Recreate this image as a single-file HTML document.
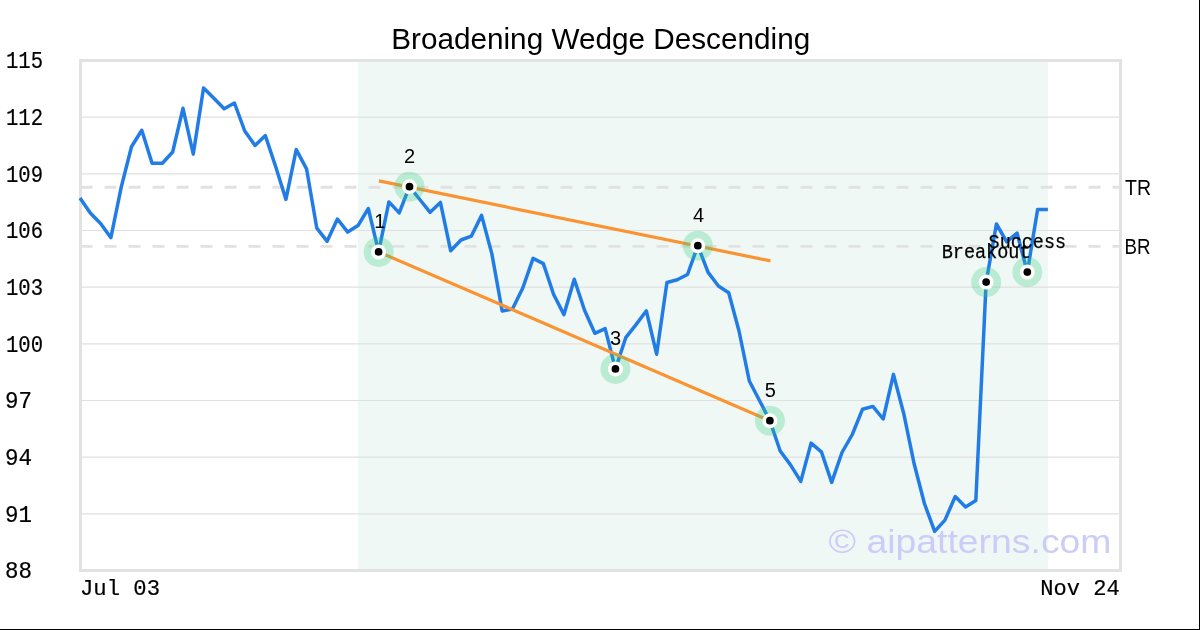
<!DOCTYPE html><html><head><meta charset="utf-8"><style>html,body{margin:0;padding:0;background:#fff;}svg{display:block;will-change:transform;}</style></head><body>
<svg width="1200" height="630" viewBox="0 0 1200 630">
<rect x="0" y="0" width="1200" height="630" fill="#fff"/>
<rect x="358.02" y="60.5" width="689.90" height="510.0" fill="#f0f8f5"/>
<line x1="80.5" y1="513.83" x2="1120.5" y2="513.83" stroke="#e0e0e0" stroke-width="1.1"/>
<line x1="80.5" y1="457.17" x2="1120.5" y2="457.17" stroke="#e0e0e0" stroke-width="1.1"/>
<line x1="80.5" y1="400.50" x2="1120.5" y2="400.50" stroke="#e0e0e0" stroke-width="1.1"/>
<line x1="80.5" y1="343.83" x2="1120.5" y2="343.83" stroke="#e0e0e0" stroke-width="1.1"/>
<line x1="80.5" y1="287.17" x2="1120.5" y2="287.17" stroke="#e0e0e0" stroke-width="1.1"/>
<line x1="80.5" y1="230.50" x2="1120.5" y2="230.50" stroke="#e0e0e0" stroke-width="1.1"/>
<line x1="80.5" y1="173.83" x2="1120.5" y2="173.83" stroke="#e0e0e0" stroke-width="1.1"/>
<line x1="80.5" y1="117.17" x2="1120.5" y2="117.17" stroke="#e0e0e0" stroke-width="1.1"/>
<line x1="80.5" y1="187.25" x2="1120.5" y2="187.25" stroke="#e2e2e2" stroke-width="2.8" stroke-dasharray="12 12"/>
<line x1="80.5" y1="246.3" x2="1120.5" y2="246.3" stroke="#e2e2e2" stroke-width="2.8" stroke-dasharray="12 12"/>
<rect x="80.5" y="60.5" width="1040.0" height="510.0" fill="none" stroke="#e2e2e2" stroke-width="3"/>
<text x="828.5" y="553.3" font-family="Liberation Sans, sans-serif" font-size="34" fill="#ccccf8" textLength="283" lengthAdjust="spacingAndGlyphs">© aipatterns.com</text>
<polyline points="80.00,197.90 90.30,213.00 100.59,223.50 110.89,237.70 121.19,187.40 131.49,146.80 141.78,130.30 152.08,163.30 162.38,163.30 172.67,152.00 182.97,108.30 193.27,154.10 203.56,87.90 213.86,98.30 224.16,108.80 234.46,103.00 244.75,131.00 255.05,145.50 265.35,135.60 275.64,166.50 285.94,199.40 296.24,149.60 306.53,168.80 316.83,228.20 327.13,241.30 337.43,219.00 347.72,232.10 358.02,225.60 368.32,208.50 378.61,251.90 388.91,201.90 399.21,212.90 409.50,186.70 419.80,199.50 430.10,212.30 440.40,202.40 450.69,250.80 460.99,240.00 471.29,236.20 481.58,215.40 491.88,253.90 502.18,311.00 512.48,309.00 522.77,288.00 533.07,258.40 543.37,263.60 553.66,294.50 563.96,314.60 574.26,279.30 584.55,310.20 594.85,333.30 605.15,328.60 615.45,368.90 625.74,337.70 636.04,324.60 646.34,310.80 656.63,354.20 666.93,282.50 677.23,279.70 687.52,274.50 697.82,245.70 708.12,272.40 718.42,286.00 728.71,292.80 739.01,331.00 749.31,381.00 759.60,400.70 769.90,420.70 780.20,451.00 790.50,464.90 800.79,481.40 811.09,443.10 821.39,451.80 831.68,482.40 841.98,452.50 852.28,434.50 862.57,409.20 872.87,406.40 883.17,419.00 893.47,374.40 903.76,413.70 914.06,463.50 924.36,503.30 934.65,531.40 944.95,520.10 955.25,496.50 965.54,507.00 975.84,500.50 986.14,282.10 996.44,224.00 1006.73,241.80 1017.03,233.00 1027.33,272.10 1037.62,209.50 1047.92,209.50" fill="none" stroke="#227ce6" stroke-width="3.5" stroke-linejoin="round" stroke-linecap="butt"/>
<line x1="378.91" y1="180.9" x2="770.50" y2="260.9" stroke="#fa9433" stroke-width="3.2"/>
<line x1="378.61" y1="251.90" x2="769.90" y2="420.70" stroke="#fa9433" stroke-width="3.2"/>
<circle cx="378.61" cy="251.90" r="15" fill="#2ecc7d" fill-opacity="0.28"/>
<circle cx="378.61" cy="251.90" r="7.5" fill="#fff"/>
<circle cx="378.61" cy="251.90" r="3.85" fill="#000"/>
<circle cx="409.50" cy="186.70" r="15" fill="#2ecc7d" fill-opacity="0.28"/>
<circle cx="409.50" cy="186.70" r="7.5" fill="#fff"/>
<circle cx="409.50" cy="186.70" r="3.85" fill="#000"/>
<circle cx="615.45" cy="368.90" r="15" fill="#2ecc7d" fill-opacity="0.28"/>
<circle cx="615.45" cy="368.90" r="7.5" fill="#fff"/>
<circle cx="615.45" cy="368.90" r="3.85" fill="#000"/>
<circle cx="697.82" cy="245.70" r="15" fill="#2ecc7d" fill-opacity="0.28"/>
<circle cx="697.82" cy="245.70" r="7.5" fill="#fff"/>
<circle cx="697.82" cy="245.70" r="3.85" fill="#000"/>
<circle cx="769.90" cy="420.70" r="15" fill="#2ecc7d" fill-opacity="0.28"/>
<circle cx="769.90" cy="420.70" r="7.5" fill="#fff"/>
<circle cx="769.90" cy="420.70" r="3.85" fill="#000"/>
<circle cx="986.14" cy="282.10" r="15" fill="#2ecc7d" fill-opacity="0.28"/>
<circle cx="986.14" cy="282.10" r="7.5" fill="#fff"/>
<circle cx="986.14" cy="282.10" r="3.85" fill="#000"/>
<circle cx="1027.33" cy="272.10" r="15" fill="#2ecc7d" fill-opacity="0.28"/>
<circle cx="1027.33" cy="272.10" r="7.5" fill="#fff"/>
<circle cx="1027.33" cy="272.10" r="3.85" fill="#000"/>
<text x="379.91" y="227.90" text-anchor="middle" font-family="Liberation Sans, sans-serif" font-size="20" fill="#000">1</text>
<text x="409.50" y="162.70" text-anchor="middle" font-family="Liberation Sans, sans-serif" font-size="20" fill="#000">2</text>
<text x="615.45" y="344.90" text-anchor="middle" font-family="Liberation Sans, sans-serif" font-size="20" fill="#000">3</text>
<text x="698.62" y="221.70" text-anchor="middle" font-family="Liberation Sans, sans-serif" font-size="20" fill="#000">4</text>
<text x="770.20" y="396.70" text-anchor="middle" font-family="Liberation Sans, sans-serif" font-size="20" fill="#000">5</text>
<text x="986.14" y="258.40" text-anchor="middle" font-family="Liberation Mono, monospace" font-size="20.5" textLength="89" lengthAdjust="spacingAndGlyphs" fill="#000" stroke="#000" stroke-width="0.25">Breakout</text>
<text x="1027.33" y="248.40" text-anchor="middle" font-family="Liberation Mono, monospace" font-size="20.5" textLength="77.5" lengthAdjust="spacingAndGlyphs" fill="#000" stroke="#000" stroke-width="0.25">Success</text>
<text x="600.7" y="48.9" text-anchor="middle" font-family="Liberation Sans, sans-serif" font-size="29" textLength="419" lengthAdjust="spacingAndGlyphs" fill="#000">Broadening Wedge Descending</text>
<text x="5.0" y="578.30" font-family="Liberation Mono, monospace" font-size="23.6" textLength="27.0" lengthAdjust="spacingAndGlyphs" fill="#000" stroke="#000" stroke-width="0.2">88</text>
<text x="5.0" y="521.63" font-family="Liberation Mono, monospace" font-size="23.6" textLength="27.0" lengthAdjust="spacingAndGlyphs" fill="#000" stroke="#000" stroke-width="0.2">91</text>
<text x="5.0" y="464.97" font-family="Liberation Mono, monospace" font-size="23.6" textLength="27.0" lengthAdjust="spacingAndGlyphs" fill="#000" stroke="#000" stroke-width="0.2">94</text>
<text x="5.0" y="408.30" font-family="Liberation Mono, monospace" font-size="23.6" textLength="27.0" lengthAdjust="spacingAndGlyphs" fill="#000" stroke="#000" stroke-width="0.2">97</text>
<text x="6.0" y="351.63" font-family="Liberation Mono, monospace" font-size="23.6" textLength="37.0" lengthAdjust="spacingAndGlyphs" fill="#000" stroke="#000" stroke-width="0.2">100</text>
<text x="6.0" y="294.97" font-family="Liberation Mono, monospace" font-size="23.6" textLength="37.0" lengthAdjust="spacingAndGlyphs" fill="#000" stroke="#000" stroke-width="0.2">103</text>
<text x="6.0" y="238.30" font-family="Liberation Mono, monospace" font-size="23.6" textLength="37.0" lengthAdjust="spacingAndGlyphs" fill="#000" stroke="#000" stroke-width="0.2">106</text>
<text x="6.0" y="181.63" font-family="Liberation Mono, monospace" font-size="23.6" textLength="37.0" lengthAdjust="spacingAndGlyphs" fill="#000" stroke="#000" stroke-width="0.2">109</text>
<text x="6.0" y="124.97" font-family="Liberation Mono, monospace" font-size="23.6" textLength="37.0" lengthAdjust="spacingAndGlyphs" fill="#000" stroke="#000" stroke-width="0.2">112</text>
<text x="6.0" y="68.30" font-family="Liberation Mono, monospace" font-size="23.6" textLength="37.0" lengthAdjust="spacingAndGlyphs" fill="#000" stroke="#000" stroke-width="0.2">115</text>
<text x="80" y="594.8" font-family="Liberation Mono, monospace" font-size="22.5" textLength="80" lengthAdjust="spacingAndGlyphs" fill="#000" stroke="#000" stroke-width="0.2">Jul 03</text>
<text x="1119.8" y="594.8" text-anchor="end" font-family="Liberation Mono, monospace" font-size="22.5" textLength="79.5" lengthAdjust="spacingAndGlyphs" fill="#000" stroke="#000" stroke-width="0.2">Nov 24</text>
<text x="1125" y="195" font-family="Liberation Sans, sans-serif" font-size="22.5" textLength="26" lengthAdjust="spacingAndGlyphs" fill="#000">TR</text>
<text x="1124.5" y="254" font-family="Liberation Sans, sans-serif" font-size="22.5" textLength="26" lengthAdjust="spacingAndGlyphs" fill="#000">BR</text>
<rect x="1199" y="0" width="1" height="630" fill="#000"/>
<rect x="0" y="629" width="1200" height="1" fill="#000"/>
</svg></body></html>
